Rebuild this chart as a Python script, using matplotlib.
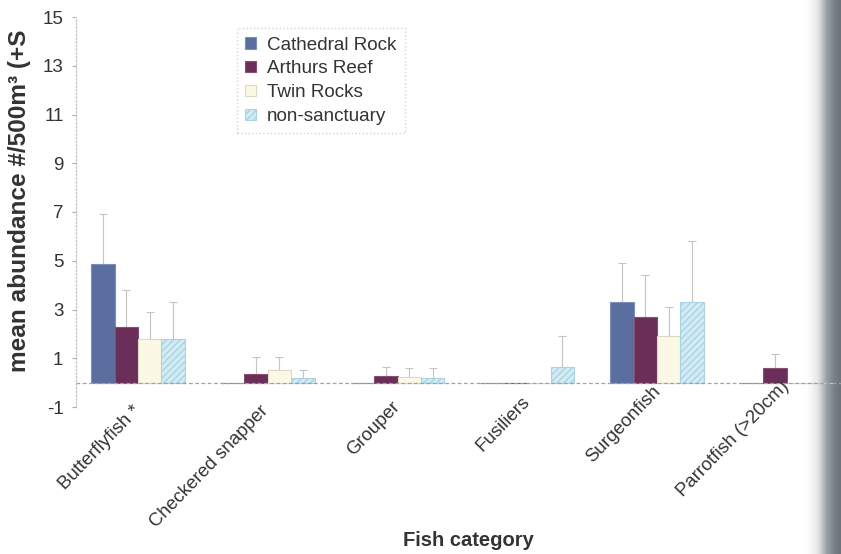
import numpy as np
import matplotlib
matplotlib.use("Agg")
import matplotlib.pyplot as plt
from matplotlib.colors import LinearSegmentedColormap
from matplotlib.transforms import Bbox, ScaledTranslation

plt.rcParams['font.family'] = ['Liberation Sans', 'DejaVu Sans']

categories = ["Butterflyfish *", "Checkered snapper", "Grouper", "Fusiliers",
              "Surgeonfish", "Parrotfish (>20cm)"]
sites = ["Cathedral Rock", "Arthurs Reef", "Twin Rocks", "non-sanctuary"]

cathedral = [4.85, 0.0, 0.0, 0.0, 3.3, 0.0]
arthurs = [2.3, 0.35, 0.28, 0.0, 2.7, 0.62]
twin_rocks = [1.8, 0.5, 0.22, 0.0, 1.9, 0.0]
non_sanctuary = [1.8, 0.2, 0.2, 0.65, 3.3, 0.0]

cathedral_se = [2.05, 0.0, 0.0, 0.0, 1.6, 0.0]
arthurs_se = [1.5, 0.7, 0.35, 0.0, 1.7, 0.55]
twin_rocks_se = [1.1, 0.55, 0.4, 0.0, 1.2, 0.0]
non_sanctuary_se = [1.5, 0.3, 0.4, 1.25, 2.5, 0.0]

yticks = [-1, 1, 3, 5, 7, 9, 11, 13, 15]

means = [cathedral, arthurs, twin_rocks, non_sanctuary]
errors = [cathedral_se, arthurs_se, twin_rocks_se, non_sanctuary_se]
faces = ["#5a6e9f", "#6b2e58", "#fbf9e6", "#d3ecf4"]
edges = ["#7d8fb8", "#855072", "#dcdac2", "#a9d3e2"]
hatches = [None, None, None, "/////"]

W, H = 841, 554
fig = plt.figure(figsize=(W / 100, H / 100), dpi=100)

# shaded page edge on the right, kept behind the plot
shade = fig.add_axes([806 / W, 0, (W - 806) / W, 1], zorder=0)
ramp = np.linspace(0, 1, 200) ** 1.3
shade_cmap = LinearSegmentedColormap.from_list(
    "edge", ["#ffffff", "#e3e5e7", "#9ba1a7", "#7a8188", "#6c737a"])
shade.imshow(ramp[None, :], aspect="auto", cmap=shade_cmap, vmin=0, vmax=1,
             extent=[0, 1, 0, 1])
shade.set_axis_off()

left_px = 76
ax = fig.add_axes([left_px / W, 1 - 407 / H, 1 - left_px / W, (407 - 17) / H],
                  zorder=1)
ax.patch.set_alpha(0)
ax.set_axisbelow(False)

x = np.arange(len(categories))
w = 0.181
for i, (m, e) in enumerate(zip(means, errors)):
    pos = x + (i - 1.5) * w
    ax.bar(pos, m, width=w, color=faces[i], edgecolor=edges[i], linewidth=0.8,
           hatch=hatches[i], label=sites[i], zorder=2)
    mask = np.array(e) > 0
    ax.errorbar(pos[mask], np.array(m)[mask],
                yerr=[np.zeros(mask.sum()), np.array(e)[mask]],
                fmt="none", ecolor="#c4c4c4", elinewidth=0.8, capsize=3,
                capthick=0.8, zorder=1)

ax.axhline(0, color="#9aa3ad", lw=0.9, ls=(0, (3, 2)), zorder=3)

ax.set_xlim((left_px - 138) / 129.75, (W - 138) / 129.75)
ax.set_ylim(-1, 15)
ax.set_yticks(yticks)
ax.set_yticklabels([str(t) for t in yticks], fontsize=13.5, color="#333333")
ax.set_xticks(x)
ax.set_xticklabels(categories, rotation=46, ha="right", va="center",
                   rotation_mode="anchor", fontsize=13.4, color="#333333")
ax.tick_params(axis="x", length=0, pad=7)
ax.tick_params(axis="y", length=3, color="#b0b0b0", pad=6)

# category labels drift upward towards the right of the panel
label_shift_px = [(0, 8), (-2, 8), (0, 13), (0, 18), (1, 28), (0, 33)]
for lbl, (dx, dy) in zip(ax.get_xticklabels(), label_shift_px):
    lbl.set_transform(lbl.get_transform() +
                      ScaledTranslation(dx / 100, dy / 100, fig.dpi_scale_trans))

for s in ["top", "right", "bottom"]:
    ax.spines[s].set_visible(False)
ax.spines["left"].set_color("#c4c8cc")
ax.spines["left"].set_linestyle(":")
ax.spines["left"].set_linewidth(1.0)

ylab = fig.text(20 / W, 1 - 372 / H, "mean abundance #/500m\u00b3 (+SE)",
                rotation=90, ha="center", va="bottom", fontsize=17.6,
                fontweight="bold", color="#333333")
# the label is cut off near the top of the panel
ylab.set_clip_box(Bbox.from_extents(0, 0, W, H - 31))
ylab.set_clip_on(True)

fig.text(468 / W, 1 - 541 / H, "Fish category", ha="center", va="center",
         fontsize=14.5, fontweight="bold", color="#333333")

leg = ax.legend(loc="upper left", bbox_to_anchor=(237 / W, 1 - 28 / H),
                bbox_transform=fig.transFigure, fontsize=13.6, frameon=True,
                fancybox=False, handlelength=0.55, handleheight=0.55,
                handletextpad=0.6, labelspacing=0.36, borderpad=0.45,
                borderaxespad=0)
leg.set_zorder(5)
frame = leg.get_frame()
frame.set_edgecolor("#c8c8c8")
frame.set_linestyle(":")
frame.set_linewidth(1.0)
for t in leg.get_texts():
    t.set_color("#333333")

fig.savefig("out.png", dpi=100)
